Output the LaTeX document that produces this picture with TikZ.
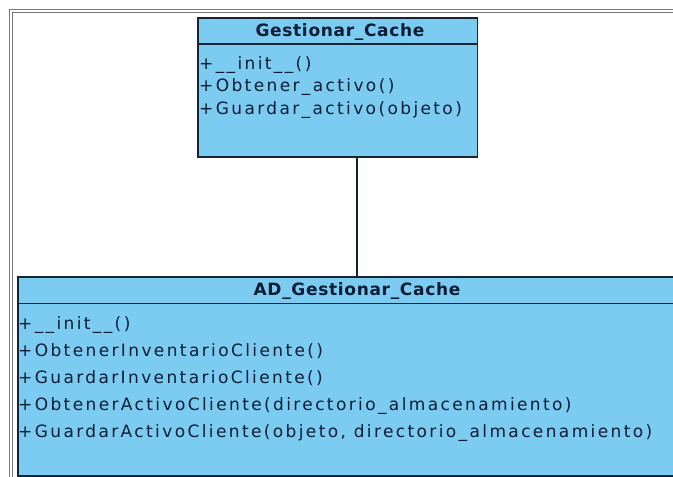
\documentclass[tikz,border=0pt]{standalone}
\usepackage{fontspec}
\newfontfamily\umlfont{DejaVu Sans}[LetterSpace=14]
\newfontfamily\umltitle{DejaVu Sans Bold}[LetterSpace=4]
\definecolor{classfill}{RGB}{124,204,242}
\definecolor{classline}{RGB}{22,36,54}
\definecolor{classtext}{RGB}{12,28,52}
\definecolor{framegray}{RGB}{120,120,120}
\begin{document}
\begin{tikzpicture}[x=1pt,y=-1pt,
  classbox/.style={draw=classline, fill=classfill, line width=1.8pt, rectangle, inner sep=0pt, anchor=north west},
  classname/.style={inner sep=0pt, anchor=base, text=classtext, font=\umltitle\fontsize{17}{17}\selectfont},
  oper/.style={inner sep=0pt, anchor=base west, text=classtext, font=\umlfont\fontsize{17}{17}\selectfont},
  sepline/.style={draw=classline, line width=1.6pt},
  framerule/.style={draw=framegray, line width=0.9pt},
  assoc/.style={draw=classline, line width=1.4pt}]
\useasboundingbox (0,0) rectangle (673,477);
\clip (0,0) rectangle (673,477);
\fill[white] (0,0) rectangle (673,477);

% outer double frame of the diagram sheet
\draw[framerule] (9.5,490) -- (9.5,9.5) -- (690,9.5);
\draw[framerule] (12.5,490) -- (12.5,12.5) -- (690,12.5);

% class Gestionar_Cache
\node[classbox, minimum width=279.5pt, minimum height=139pt] (gc) at (197,16.7) {};
\draw[sepline] (gc.west |- 0,44) -- (gc.east |- 0,44);
\node[classname] (gcname) at (340,36.6) {Gestionar\_Cache};
\node[oper] (gcop1) at (199,69) {+\_\_init\_\_()};
\node[oper] (gcop2) at (199,91.5) {+Obtener\_activo()};
\node[oper] (gcop3) at (199,114) {+Guardar\_activo(objeto)};

% class AD_Gestionar_Cache
\node[classbox, minimum width=700pt, minimum height=199pt] (adgc) at (16.7,275.7) {};
\draw[sepline] (adgc.west |- 0,303.5) -- (adgc.east |- 0,303.5);
\node[classname] (adname) at (357,295.8) {AD\_Gestionar\_Cache};
\node[oper] (adop1) at (18,329) {+\_\_init\_\_()};
\node[oper] (adop2) at (18,356) {+ObtenerInventarioCliente()};
\node[oper] (adop3) at (18,383) {+GuardarInventarioCliente()};
\node[oper] (adop4) at (18,410) {+ObtenerActivoCliente(directorio\_almacenamiento)};
\node[oper] (adop5) at (18,437) {+GuardarActivoCliente(objeto, directorio\_almacenamiento)};

% association between the two classes
\coordinate (link) at (357,0);
\draw[assoc] (gc.south -| link) -- (adgc.north -| link);
\end{tikzpicture}
\end{document}
